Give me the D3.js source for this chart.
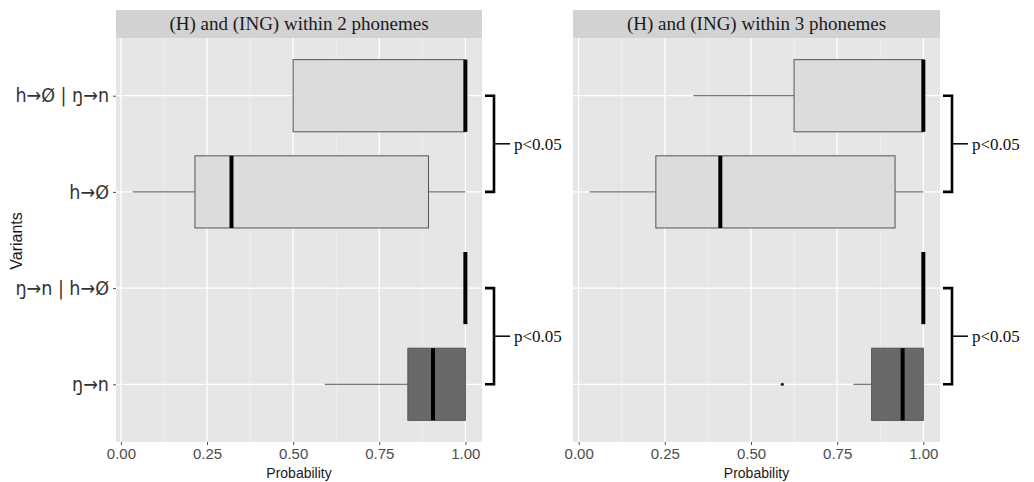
<html>
<head>
	<meta charset="utf-8">
	<title>Variants by probability</title>
	<style>
		body { margin: 0; background: #fff; }
	</style>
</head>
<body>
	<script src="https://cdnjs.cloudflare.com/ajax/libs/d3/7.8.5/d3.min.js"></script>
	<script type="text/javascript">
		// categories, top to bottom
		var variants = ["h→Ø | ŋ→n", "h→Ø", "ŋ→n | h→Ø", "ŋ→n"];
		var panelTitles = ["(H) and (ING) within 2 phonemes", "(H) and (ING) within 3 phonemes"];
		var xTicks = [0, 0.25, 0.5, 0.75, 1];
		var xMinor = [0.125, 0.375, 0.625, 0.875];
		// box stats per variant: [lower whisker, q1, median, q3, upper whisker]
		var boxes2 = [
			[0.50, 0.50, 1.00, 1.00, 1.00],
			[0.034, 0.215, 0.321, 0.893, 1.00],
			[1.00, 1.00, 1.00, 1.00, 1.00],
			[0.592, 0.833, 0.906, 1.00, 1.00]
		];
		var boxes3 = [
			[0.333, 0.625, 1.00, 1.00, 1.00],
			[0.032, 0.224, 0.411, 0.918, 1.00],
			[1.00, 1.00, 1.00, 1.00, 1.00],
			[0.797, 0.850, 0.940, 1.00, 1.00]
		];
		// outliers: [variant index, value]
		var outliers2 = [];
		var outliers3 = [[3, 0.591]];
		// significance brackets: pairs of variant indices
		var brackets = [[0, 1], [2, 3]];
		var bracketLabels = ["p<0.05", "p<0.05"];

		var W = 1034, H = 482;
		var svg = d3.select("body").append("svg")
					.attr("width", W)
					.attr("height", H)
					.style("font-family", "'Liberation Sans', Arial, sans-serif");

		var panelTop = 38, panelBottom = 442, stripTop = 10;
		var panelsX = [[116, 482], [573, 940]];
		var fill = d3.scaleOrdinal().domain(variants).range(["#dcdcdc", "#dcdcdc", "#dcdcdc", "#696969"]);

		var y = d3.scalePoint()
					.domain(variants)
					.range([panelTop, panelBottom])
					.padding(0.6);
		var boxH = y.step() * 0.75;

		function drawPanel(i, boxes, outliers){
			var px = panelsX[i];
			var all = d3.merge(boxes).concat(outliers.map(function(o){ return o[1]; }));
			var lo = d3.min(all), hi = d3.max(all), ex = (hi - lo) * 0.05;
			var x = d3.scaleLinear().domain([lo - ex, hi + ex]).range(px);
			var g = svg.append("g");

			// strip
			g.append("rect")
				.attr("x", px[0]).attr("y", stripTop)
				.attr("width", px[1] - px[0]).attr("height", panelTop - stripTop)
				.style("fill", "#d2d2d2");
			g.append("text")
				.attr("x", (px[0] + px[1]) / 2).attr("y", stripTop + 20)
				.attr("text-anchor", "middle")
				.style("font-family", "'Liberation Serif', 'Times New Roman', serif")
				.style("font-size", "19px")
				.style("fill", "#1a1a1a")
				.text(panelTitles[i]);

			// panel
			g.append("rect")
				.attr("x", px[0]).attr("y", panelTop)
				.attr("width", px[1] - px[0]).attr("height", panelBottom - panelTop)
				.style("fill", "#e6e6e6");
			g.selectAll(".minor").data(xMinor).enter().append("line")
				.attr("x1", function(d){ return x(d); }).attr("x2", function(d){ return x(d); })
				.attr("y1", panelTop).attr("y2", panelBottom)
				.style("stroke", "#f2f2f2").style("stroke-width", 0.8);
			g.selectAll(".major").data(xTicks).enter().append("line")
				.attr("x1", function(d){ return x(d); }).attr("x2", function(d){ return x(d); })
				.attr("y1", panelTop).attr("y2", panelBottom)
				.style("stroke", "#fff").style("stroke-width", 1.3);
			g.selectAll(".hgrid").data(variants).enter().append("line")
				.attr("x1", px[0]).attr("x2", px[1])
				.attr("y1", function(d){ return y(d); }).attr("y2", function(d){ return y(d); })
				.style("stroke", "#fff").style("stroke-width", 1.3);

			// boxes
			var b = g.selectAll(".box").data(boxes).enter().append("g");
			b.append("line")
				.attr("x1", function(d){ return x(d[0]); }).attr("x2", function(d){ return x(d[1]); })
				.attr("y1", function(d, j){ return y(variants[j]); }).attr("y2", function(d, j){ return y(variants[j]); })
				.style("stroke", "#555").style("stroke-width", 1);
			b.append("line")
				.attr("x1", function(d){ return x(d[3]); }).attr("x2", function(d){ return x(d[4]); })
				.attr("y1", function(d, j){ return y(variants[j]); }).attr("y2", function(d, j){ return y(variants[j]); })
				.style("stroke", "#555").style("stroke-width", 1);
			b.append("rect")
				.attr("x", function(d){ return x(d[1]); })
				.attr("y", function(d, j){ return y(variants[j]) - boxH / 2; })
				.attr("width", function(d){ return x(d[3]) - x(d[1]); })
				.attr("height", boxH)
				.style("fill", function(d, j){ return fill(variants[j]); })
				.style("stroke", "#555").style("stroke-width", 1);
			b.append("line")
				.attr("x1", function(d){ return x(d[2]); }).attr("x2", function(d){ return x(d[2]); })
				.attr("y1", function(d, j){ return y(variants[j]) - boxH / 2; })
				.attr("y2", function(d, j){ return y(variants[j]) + boxH / 2; })
				.style("stroke", "#000").style("stroke-width", 4);

			g.selectAll(".out").data(outliers).enter().append("circle")
				.attr("cx", function(d){ return x(d[1]); })
				.attr("cy", function(d){ return y(variants[d[0]]); })
				.attr("r", 1.6)
				.style("fill", "#222");

			// x axis
			var ax = g.append("g")
				.attr("transform", "translate(0," + panelBottom + ")")
				.call(d3.axisBottom(x).tickValues(xTicks).tickFormat(d3.format(".2f")).tickSize(3).tickPadding(3));
			ax.select(".domain").remove();
			ax.selectAll(".tick line").style("stroke", "#4d4d4d");
			ax.selectAll("text")
				.style("font-size", "15px")
				.style("fill", "#4d4d4d")
				.style("font-family", "'Liberation Sans', Arial, sans-serif");
			g.append("text")
				.attr("x", (px[0] + px[1]) / 2).attr("y", 478)
				.attr("text-anchor", "middle")
				.style("font-size", "14px")
				.style("fill", "#1a1a1a")
				.text("Probability");

			// brackets
			brackets.forEach(function(p, k){
				var y1 = y(variants[p[0]]), y2 = y(variants[p[1]]);
				var bx = px[1] + 12, ym = (y1 + y2) / 2;
				g.append("path")
					.attr("d", "M" + (px[1] + 3) + "," + y1 + " H" + bx + " V" + y2 + " H" + (px[1] + 3))
					.style("fill", "none").style("stroke", "#000").style("stroke-width", 2.6);
				g.append("line")
					.attr("x1", bx).attr("x2", bx + 16)
					.attr("y1", ym).attr("y2", ym)
					.style("stroke", "#000").style("stroke-width", 1.5);
				g.append("text")
					.attr("x", bx + 20).attr("y", ym + 6)
					.style("font-family", "'Liberation Serif', 'Times New Roman', serif")
					.style("font-size", "17px")
					.style("fill", "#111")
					.text(bracketLabels[k]);
			});
		}

		drawPanel(0, boxes2, outliers2);
		drawPanel(1, boxes3, outliers3);

		// y axis (left panel only)
		var ay = svg.append("g")
			.attr("transform", "translate(" + panelsX[0][0] + ",0)")
			.call(d3.axisLeft(y).tickSize(3).tickPadding(4));
		ay.select(".domain").remove();
		ay.selectAll(".tick line").style("stroke", "#4d4d4d");
		ay.selectAll("text")
			.style("font-size", "19.5px")
			.style("fill", "#333")
			.style("font-family", "'DejaVu Sans Condensed', 'DejaVu Sans', sans-serif");

		svg.append("text")
			.attr("transform", "translate(22,241) rotate(-90)")
			.attr("text-anchor", "middle")
			.style("font-size", "16px")
			.style("fill", "#1a1a1a")
			.text("Variants");
	</script>
</body>
</html>
